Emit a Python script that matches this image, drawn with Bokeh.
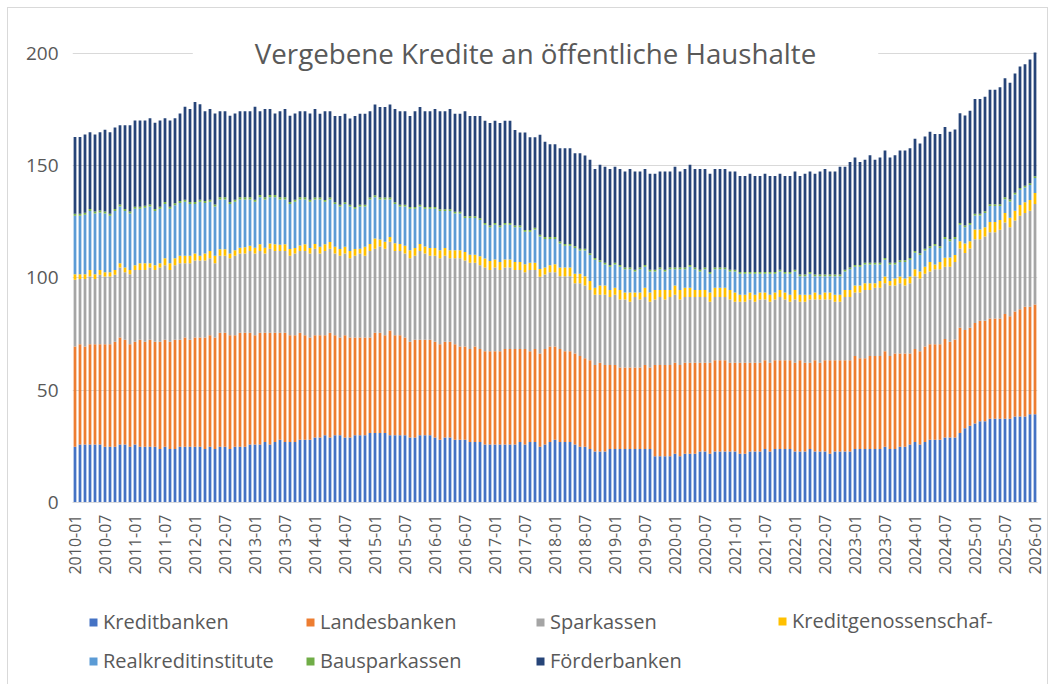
import math
from bokeh.plotting import figure
from bokeh.layouts import column
from bokeh.models import ColumnDataSource, Range1d, FixedTicker, Label, Legend, LegendItem
from bokeh.embed import file_html
from bokeh.resources import INLINE

# Monthly categories 2010-01 .. 2026-01
months = [f"{y}-{m:02d}" for y in range(2010, 2027) for m in range(1, 13)][:193]

kreditbanken = [
    24.8, 25.8, 25.8, 25.8, 25.8, 25.8, 24.8, 24.8, 24.8, 25.8, 25.8, 24.8, 25.8, 24.8, 24.8, 24.8,
    24.8, 23.8, 24.8, 23.8, 23.8, 24.8, 24.8, 24.8, 24.8, 24.8, 23.8, 24.8, 23.8, 24.8, 24.8, 23.8,
    24.8, 24.8, 24.8, 25.8, 25.8, 25.8, 26.9, 25.8, 26.9, 27.9, 26.9, 26.9, 26.9, 27.9, 27.9, 27.9,
    29.0, 29.0, 30.0, 29.0, 30.0, 30.0, 29.0, 29.0, 30.0, 30.0, 30.0, 31.0, 31.0, 31.0, 31.0, 30.0,
    30.0, 30.0, 30.0, 29.0, 29.0, 30.0, 30.0, 30.0, 29.0, 27.9, 29.0, 29.0, 27.9, 27.9, 27.9, 26.9,
    26.9, 26.9, 25.8, 25.8, 25.8, 25.8, 25.8, 25.8, 25.8, 26.9, 25.8, 26.9, 26.9, 24.8, 25.8, 26.9, 27.9,
    26.9, 26.9, 26.9, 25.8, 24.8, 24.8, 23.8, 22.7, 22.7, 22.7, 23.8, 23.8, 23.8, 23.8, 23.8, 23.8,
    23.8, 23.8, 23.8, 20.6, 20.6, 20.6, 20.6, 21.7, 20.6, 21.7, 21.7, 21.7, 22.7, 22.7, 21.7, 22.7, 22.7,
    22.7, 22.7, 22.7, 21.7, 21.7, 22.7, 22.7, 22.7, 23.8, 22.7, 23.8, 23.8, 23.8, 23.8, 22.7, 22.7,
    22.7, 23.8, 22.7, 22.7, 22.7, 21.7, 22.7, 22.7, 22.7, 22.7, 23.8, 23.8, 23.8, 23.8, 23.8, 23.8,
    24.8, 23.8, 23.8, 24.8, 24.8, 25.8, 26.9, 25.8, 26.9, 27.9, 27.9, 27.9, 29.0, 29.0, 29.0, 31.0,
    33.1, 34.2, 35.2, 36.2, 36.2, 37.3, 37.3, 37.3, 37.3, 37.3, 38.3, 38.3, 38.3, 39.3, 39.3,
]

landesbanken = [
    44.7, 44.7, 43.7, 44.7, 44.7, 44.7, 45.7, 45.7, 46.8, 47.7, 46.7, 45.7, 45.8, 47.7, 46.8, 47.7,
    46.8, 47.8, 47.7, 47.8, 48.7, 47.7, 48.7, 47.7, 48.7, 48.7, 49.7, 49.7, 49.7, 50.8, 50.8, 50.7,
    49.7, 50.8, 50.8, 49.8, 48.7, 49.8, 48.7, 49.8, 48.7, 47.7, 48.7, 47.6, 47.6, 47.7, 46.6, 45.6,
    45.5, 45.5, 44.5, 46.6, 44.5, 43.5, 45.5, 44.5, 43.5, 43.5, 43.5, 42.5, 44.6, 44.6, 43.5, 46.6,
    44.5, 44.5, 43.5, 42.6, 43.5, 42.5, 42.5, 42.5, 42.6, 42.6, 42.6, 42.6, 42.6, 41.6, 41.6, 41.5,
    42.6, 41.5, 41.6, 41.6, 41.6, 41.6, 42.6, 42.6, 42.6, 41.5, 42.6, 40.5, 41.5, 41.6, 42.6, 42.6, 41.6,
    41.5, 40.5, 40.5, 40.6, 40.5, 39.5, 39.5, 38.5, 39.5, 38.5, 37.4, 37.4, 36.3, 36.3, 36.3, 36.3,
    36.3, 37.4, 36.3, 40.6, 40.6, 40.6, 40.6, 40.5, 40.6, 40.5, 40.5, 40.5, 39.5, 39.5, 40.5, 40.6, 40.6,
    40.6, 39.5, 39.5, 40.5, 40.5, 39.5, 39.5, 39.5, 39.5, 39.5, 39.5, 39.5, 39.5, 39.5, 39.5, 40.6,
    39.5, 38.4, 40.6, 39.5, 40.6, 41.6, 40.6, 40.6, 40.6, 40.6, 41.5, 40.5, 40.5, 41.5, 41.5, 41.5,
    42.6, 41.5, 42.6, 41.6, 41.6, 40.6, 41.5, 41.6, 42.6, 42.6, 42.6, 42.6, 43.8, 42.6, 43.6, 46.8,
    43.7, 43.6, 44.7, 44.7, 44.7, 44.7, 44.7, 44.7, 46.7, 45.7, 46.8, 47.8, 48.9, 47.9, 48.9,
]

sparkassen = [
    29.7, 29.0, 30.0, 30.2, 29.0, 30.9, 30.2, 30.2, 29.8, 31.2, 30.1, 31.2, 32.0, 31.1, 32.0, 32.2,
    32.0, 33.1, 33.2, 32.0, 33.2, 34.1, 33.1, 34.1, 34.3, 34.3, 34.3, 34.3, 33.1, 34.3, 34.3, 34.3,
    35.4, 35.3, 35.3, 36.4, 36.4, 36.4, 35.3, 37.4, 36.4, 36.4, 36.4, 35.4, 36.4, 36.4, 37.5, 37.4,
    38.5, 36.4, 37.5, 37.4, 36.4, 36.4, 36.4, 35.3, 36.4, 37.4, 36.4, 38.5, 37.4, 38.4, 38.5, 39.5,
    37.5, 37.5, 37.4, 37.2, 37.4, 39.5, 38.4, 37.4, 38.3, 38.3, 38.3, 37.2, 38.3, 39.3, 38.3, 38.4,
    37.3, 37.3, 37.3, 36.2, 37.3, 36.2, 36.3, 36.3, 35.2, 35.2, 34.2, 36.2, 35.2, 34.1, 33.2, 33.1, 33.1,
    32.4, 33.4, 33.4, 31.3, 32.4, 32.4, 31.3, 31.3, 30.3, 31.3, 30.3, 31.3, 30.3, 30.3, 29.3, 31.4,
    30.3, 30.3, 29.3, 29.2, 30.3, 29.2, 30.3, 30.3, 29.2, 29.3, 29.3, 29.3, 29.3, 29.3, 27.2, 28.2, 28.2,
    28.2, 28.2, 27.2, 27.2, 27.2, 28.2, 27.2, 28.2, 27.1, 27.2, 27.1, 28.2, 27.1, 26.1, 28.2, 26.1,
    27.2, 28.2, 27.1, 28.2, 27.1, 27.1, 26.1, 26.1, 28.2, 28.2, 28.2, 29.2, 30.3, 29.3, 30.3, 30.3,
    30.3, 31.4, 30.3, 31.3, 30.3, 31.3, 32.4, 32.4, 32.4, 32.4, 33.4, 33.4, 32.2, 33.4, 34.5, 35.3,
    34.3, 35.3, 37.4, 36.4, 37.6, 38.4, 38.4, 39.5, 40.7, 39.6, 40.5, 41.6, 41.7, 42.7, 44.8,
]

kreditgenossenschaften = [
    2.5, 2.2, 2.2, 2.9, 2.2, 2.2, 1.9, 1.9, 2.2, 1.9, 2.1, 1.9, 2.1, 3.0, 3.0, 1.9,
    2.1, 1.9, 3.1, 3.0, 3.1, 3.3, 3.3, 3.3, 3.1, 2.1, 3.1, 3.2, 3.3, 2.9, 2.9, 2.1,
    2.5, 2.6, 2.8, 2.4, 2.6, 3.0, 2.6, 2.4, 3.0, 2.8, 3.0, 3.0, 2.5, 2.5, 3.0, 2.4,
    2.1, 3.0, 3.0, 3.0, 3.0, 3.0, 3.0, 3.2, 3.0, 2.1, 4.0, 3.1, 4.6, 3.1, 3.1, 2.1,
    3.5, 3.1, 3.5, 3.5, 3.5, 3.1, 3.1, 3.5, 3.5, 3.5, 3.5, 3.5, 3.5, 3.5, 3.8, 3.5,
    3.5, 4.0, 4.0, 4.0, 3.5, 3.5, 3.5, 3.5, 3.5, 3.5, 3.5, 3.2, 3.2, 3.5, 3.1, 3.1, 3.5,
    3.9, 3.9, 3.9, 4.2, 4.2, 4.1, 4.1, 3.1, 4.2, 4.2, 3.1, 3.1, 4.2, 3.1, 4.1, 2.0,
    3.1, 4.1, 4.1, 4.2, 3.1, 4.2, 3.1, 4.2, 4.2, 4.1, 4.1, 3.1, 3.1, 3.1, 4.1, 4.1, 4.1,
    4.1, 4.2, 4.1, 3.1, 3.1, 3.1, 3.1, 3.1, 3.1, 3.1, 3.1, 3.1, 3.1, 3.1, 4.2, 3.1,
    3.1, 2.1, 3.1, 2.1, 3.1, 3.1, 3.1, 3.1, 3.1, 3.1, 3.2, 3.2, 3.1, 3.1, 2.1, 3.1,
    3.0, 2.0, 3.1, 3.0, 3.1, 3.0, 3.1, 3.1, 3.1, 4.2, 2.1, 3.2, 4.0, 4.1, 3.1, 3.3,
    4.3, 3.3, 4.3, 4.3, 4.1, 4.5, 4.5, 4.3, 4.2, 4.2, 4.3, 4.8, 4.8, 4.8, 4.8,
]

realkreditinstitute = [
    26.0, 26.0, 26.5, 26.2, 27.0, 25.6, 26.1, 25.1, 26.2, 25.2, 25.1, 25.1, 25.1, 24.2, 24.7, 25.2,
    24.1, 24.2, 24.1, 24.2, 23.6, 23.5, 24.0, 23.0, 22.0, 24.0, 22.5, 21.9, 21.9, 22.2, 22.2, 22.0,
    21.5, 21.5, 21.3, 20.6, 20.4, 21.0, 21.5, 20.6, 21.0, 20.2, 20.0, 20.0, 20.5, 20.5, 20.0, 20.6,
    19.9, 21.1, 18.9, 19.0, 19.0, 18.9, 19.0, 19.8, 17.9, 18.8, 17.9, 19.9, 18.4, 17.9, 18.9, 16.8,
    17.4, 16.7, 17.4, 18.5, 17.4, 16.7, 16.8, 17.4, 17.4, 17.5, 16.4, 17.5, 16.4, 16.4, 15.1, 16.4,
    16.4, 16.1, 15.0, 15.0, 15.5, 15.5, 15.5, 15.5, 15.5, 15.5, 14.5, 13.8, 14.8, 14.5, 12.7, 11.7, 11.3,
    10.7, 9.6, 9.6, 11.4, 10.3, 11.4, 11.5, 12.5, 10.4, 9.3, 10.4, 10.4, 10.4, 10.4, 10.4, 9.4,
    10.4, 9.4, 9.4, 8.3, 9.3, 8.3, 9.3, 7.2, 9.3, 8.3, 9.4, 9.3, 8.3, 9.3, 8.4, 8.3, 8.3,
    8.3, 8.3, 9.4, 9.4, 9.4, 8.4, 9.4, 8.4, 8.4, 9.4, 8.4, 8.3, 8.4, 9.4, 8.3, 8.3,
    8.3, 9.4, 7.3, 8.3, 7.3, 7.3, 8.3, 8.3, 8.3, 9.3, 8.3, 8.3, 8.3, 8.3, 8.3, 7.3,
    7.4, 7.3, 6.2, 6.4, 7.3, 7.4, 7.3, 7.3, 7.2, 6.2, 8.3, 6.2, 8.4, 7.3, 7.2, 7.3,
    7.2, 7.3, 6.2, 6.2, 6.3, 7.1, 7.1, 6.2, 6.2, 7.3, 7.3, 6.8, 6.6, 6.7, 6.7,
]

bausparkassen = [
    0.9, 0.9, 0.9, 0.9, 0.9, 0.9, 0.9, 0.9, 0.9, 0.9, 0.9, 0.9, 0.9, 0.9, 0.9, 0.9,
    0.9, 0.9, 0.9, 0.9, 0.9, 0.9, 0.9, 0.9, 0.9, 0.9, 0.9, 0.9, 0.9, 0.9, 0.9, 0.9,
    0.9, 0.9, 0.9, 0.9, 0.9, 0.9, 0.9, 0.9, 0.9, 0.9, 0.9, 0.9, 0.9, 0.9, 0.9, 0.9,
    0.8, 0.8, 0.8, 0.8, 0.8, 0.8, 0.8, 0.8, 0.8, 0.8, 0.8, 0.8, 0.8, 0.8, 0.8, 0.8,
    0.8, 0.8, 0.8, 0.8, 0.8, 0.8, 0.8, 0.8, 0.8, 0.8, 0.8, 0.8, 0.8, 0.8, 0.8, 0.8,
    0.8, 0.8, 0.8, 0.8, 0.8, 0.8, 0.8, 0.8, 0.8, 0.8, 0.8, 0.8, 0.8, 0.8, 0.8, 0.8, 0.8,
    0.8, 0.8, 0.8, 0.8, 0.8, 0.8, 0.8, 0.8, 0.8, 0.8, 0.8, 0.8, 0.8, 0.8, 0.8, 0.8,
    0.8, 0.8, 0.8, 0.8, 0.8, 0.8, 0.8, 0.8, 0.8, 0.8, 0.8, 0.8, 0.8, 0.8, 0.8, 0.8, 0.8,
    0.8, 0.8, 0.8, 0.8, 0.8, 0.8, 0.8, 0.8, 0.8, 0.8, 0.8, 0.8, 0.8, 0.8, 0.8, 0.8,
    0.8, 0.8, 0.8, 0.8, 0.8, 0.8, 0.8, 0.8, 0.8, 0.8, 0.8, 0.8, 0.8, 0.8, 0.8, 0.8,
    0.8, 0.8, 0.8, 0.8, 0.8, 0.8, 0.8, 0.8, 0.8, 0.8, 0.8, 0.8, 0.8, 0.8, 0.8, 0.8,
    0.8, 0.8, 0.8, 0.8, 0.8, 0.8, 0.8, 0.8, 0.8, 0.8, 0.8, 0.8, 0.8, 0.8, 0.8,
]

foerderbanken = [
    34.2, 34.2, 34.8, 34.2, 34.3, 34.8, 36.4, 36.3, 36.3, 35.3, 37.3, 38.4, 38.4, 38.4, 37.9, 38.4,
    38.4, 38.4, 37.3, 38.4, 37.8, 38.9, 41.5, 41.5, 44.6, 42.6, 40.0, 40.5, 40.5, 38.4, 38.4, 38.4,
    38.4, 38.4, 38.4, 38.4, 41.5, 37.4, 39.4, 38.4, 36.3, 38.4, 39.4, 38.4, 38.4, 38.4, 38.4, 38.4,
    39.4, 37.3, 39.5, 38.4, 38.4, 39.5, 39.4, 38.4, 40.5, 40.5, 40.5, 38.4, 40.5, 40.4, 40.4, 41.5,
    41.5, 41.6, 41.6, 40.5, 42.6, 43.6, 42.6, 42.6, 43.6, 43.6, 43.6, 44.6, 43.6, 43.6, 46.7, 44.6,
    44.6, 45.5, 45.5, 45.6, 45.5, 45.6, 45.5, 45.5, 42.5, 41.4, 43.4, 41.3, 40.3, 44.5, 42.5, 41.4, 41.4,
    41.6, 42.7, 42.7, 41.5, 42.6, 41.6, 41.6, 39.6, 42.5, 42.7, 42.7, 42.7, 42.7, 42.7, 43.8, 43.7,
    42.7, 42.7, 42.7, 42.7, 42.7, 43.7, 42.7, 44.8, 42.7, 43.8, 44.6, 43.8, 44.8, 43.8, 43.7, 43.8, 43.8,
    43.8, 43.7, 43.7, 42.7, 42.7, 43.7, 42.7, 42.7, 43.7, 42.7, 42.7, 42.7, 42.7, 42.7, 43.7, 43.8,
    44.8, 44.7, 44.8, 45.8, 46.9, 45.8, 45.8, 47.9, 45.8, 46.9, 47.9, 45.8, 45.8, 47.9, 45.8, 46.9,
    47.9, 46.9, 47.9, 48.9, 48.9, 48.9, 50.0, 48.9, 50.0, 51.0, 49.0, 50.0, 49.0, 47.9, 47.9, 48.9,
    49.0, 50.0, 51.1, 51.1, 51.0, 51.0, 51.0, 52.1, 53.1, 52.0, 53.1, 54.1, 54.1, 55.1, 55.1,
]

series_names = ["Kreditbanken", "Landesbanken", "Sparkassen", "Kreditgenossenschaf-",
                "Realkreditinstitute", "Bausparkassen", "Förderbanken"]
series_values = [kreditbanken, landesbanken, sparkassen, kreditgenossenschaften,
                 realkreditinstitute, bausparkassen, foerderbanken]
colors = ["#4472C4", "#ED7D31", "#A5A5A5", "#FFC000", "#5B9BD5", "#70AD47", "#264478"]
y_ticks = [0, 50, 100, 150, 200]
title_text = "Vergebene Kredite an öffentliche Haushalte"

n = len(months)
keys = [f"s{i}" for i in range(len(series_names))]
data = {"x": list(range(n))}
for k, vals in zip(keys, series_values):
    data[k] = vals[:n]
source = ColumnDataSource(data)

TXT = "#595959"
FONT = "Open Sans"
W = 1039

# ---- main chart ----
p = figure(width=W, height=584, output_backend="svg", toolbar_location=None,
           x_range=Range1d(-0.5, n - 0.5), y_range=Range1d(0, 207.1),
           min_border_left=64, min_border_right=10, min_border_top=29, min_border_bottom=90)
p.outline_line_color = None
p.background_fill_color = "white"
p.border_fill_color = "white"

renderers = p.vbar_stack(keys, x="x", width=0.55, source=source,
                         fill_color=colors, line_color=None)

p.xgrid.visible = False
p.ygrid.ticker = FixedTicker(ticks=y_ticks[1:])
p.ygrid.grid_line_color = "#d9d9d9"
p.ygrid.grid_line_width = 1

p.yaxis.ticker = FixedTicker(ticks=y_ticks)
p.yaxis.axis_line_color = None
p.yaxis.major_tick_line_color = None
p.yaxis.minor_tick_line_color = None
p.yaxis.major_tick_out = 0
p.yaxis.major_tick_in = 0
p.yaxis.major_label_standoff = 14
p.yaxis.major_label_text_font = FONT
p.yaxis.major_label_text_font_size = "19px"
p.yaxis.major_label_text_color = TXT

tick_idx = list(range(0, n, 6))
p.xaxis.ticker = FixedTicker(ticks=tick_idx)
p.xaxis.major_label_overrides = {i: months[i] for i in tick_idx}
p.xaxis.major_label_orientation = math.pi / 2
p.xaxis.axis_line_color = "#d9d9d9"
p.xaxis.axis_line_width = 1
p.xaxis.major_tick_line_color = None
p.xaxis.minor_tick_line_color = None
p.xaxis.major_tick_out = 0
p.xaxis.major_tick_in = 0
p.xaxis.major_label_standoff = 12
p.xaxis.major_label_text_font = FONT
p.xaxis.major_label_text_font_size = "16px"
p.xaxis.major_label_text_color = TXT

title = Label(x=92.1, y=200, x_units="data", y_units="data", text=title_text,
              text_align="center", text_baseline="middle", text_font=FONT,
              text_font_size="27.7px", text_color=TXT,
              background_fill_color="white",
              padding=dict(left=62, right=62, top=3, bottom=3))
p.add_layout(title)

# ---- legend strip (four columns, two rows); its frame is aligned with the chart frame ----
# hidden proxy renderers on the same data supply the legend swatches
lg = figure(width=W, height=92, output_backend="svg", toolbar_location=None,
            x_range=Range1d(-0.5, n - 0.5), y_range=Range1d(-2, -1),
            x_axis_type=None, y_axis_type=None,
            min_border_left=0, min_border_right=0, min_border_top=0, min_border_bottom=0)
lg.outline_line_color = None
lg.background_fill_color = "white"
lg.border_fill_color = "white"
lg.xgrid.visible = False
lg.ygrid.visible = False
proxies = [lg.vbar(x="x", top=k, bottom=0, width=0.55, source=source,
                   fill_color=c, line_color=None, visible=False)
           for k, c in zip(keys, colors)]

columns = [[0, 4], [1, 5], [2, 6], [3]]
col_x = [16, 233, 463, 705]
for cols, cx in zip(columns, col_x):
    items = [LegendItem(label=series_names[i], renderers=[proxies[i]]) for i in cols]
    ly = 10 if len(cols) == 2 else 50
    leg = Legend(items=items, location=(cx, ly), orientation="vertical",
                 glyph_width=10, glyph_height=10, label_height=20, label_standoff=5,
                 spacing=12, padding=0, margin=0, border_line_color=None,
                 background_fill_alpha=0, label_text_font=FONT,
                 label_text_font_size="20px", label_text_color=TXT,
                 inactive_fill_alpha=0)
    lg.add_layout(leg)

layout = column(p, lg, spacing=0)
layout.styles = {"margin-left": "7px", "margin-top": "7px",
                 "border-left": "1px solid #d9d9d9", "border-top": "1px solid #d9d9d9",
                 "border-right": "1px solid #d9d9d9"}

open("out.html", "w").write(file_html(layout, INLINE))
